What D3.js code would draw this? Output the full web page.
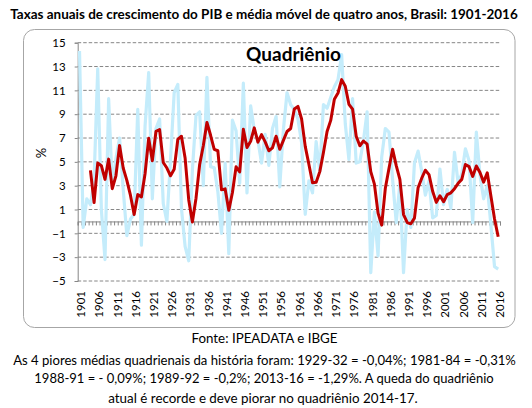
<!DOCTYPE html>
<html><head><meta charset="utf-8">
<script src="https://cdn.jsdelivr.net/npm/d3@7"></script>
<style>body{margin:0;background:#fff}svg{display:block}text{font-family:Lato,"Open Sans",sans-serif;fill:#000}</style>
</head><body><svg id="c" width="532" height="408"></svg>
<script>
const years = d3.range(1901, 2017);
const growth = [
 14.3,-0.5,1.9,1.4,3.5,12.8,1.0,-3.2,10.3,2.9,
 5.3,7.0,2.7,-1.2,0.2,0.6,9.4,-2.0,8.0,12.5,
 1.9,7.8,8.6,1.5,0.0,5.2,10.8,11.5,1.1,-2.1,
 -3.3,4.3,8.9,9.2,3.0,12.1,4.6,4.5,2.5,-1.0,
 4.9,-2.7,8.5,7.6,3.2,11.6,2.4,9.7,7.7,6.8,
 4.9,7.3,4.7,7.8,8.8,2.9,7.7,10.8,9.8,9.4,
 8.6,6.6,0.6,3.4,2.4,6.7,4.2,9.8,9.5,10.4,
 11.3,11.9,14.0,8.2,5.2,10.3,4.9,5.0,6.8,9.2,
 -4.3,0.8,-2.9,5.4,7.8,7.5,3.5,-0.1,3.2,-4.3,
 1.0,-0.5,4.9,5.9,4.2,2.2,3.4,0.3,0.5,4.4,
 1.4,2.7,1.1,5.8,3.2,4.0,6.1,5.1,-0.1,7.5,
 3.9,1.9,3.0,-0.3,-3.8,-4.0];
const movingAvg = [
 null,null,null,4.28,1.58,4.90,4.68,3.53,5.23,2.75,
 3.83,6.38,4.48,3.45,2.18,0.58,2.25,2.05,4.00,6.98,
 5.10,7.55,7.70,4.95,4.48,3.83,4.38,6.88,7.15,5.33,
 1.80,-0.04,1.95,4.78,6.35,8.30,7.23,6.05,5.93,2.65,
 2.73,0.93,2.43,4.58,4.15,7.73,6.20,6.73,7.85,6.65,
 7.28,6.68,5.93,6.18,7.15,6.05,6.80,7.55,7.80,9.43,
 9.65,8.60,6.30,4.80,3.25,3.28,4.18,5.78,7.55,8.48,
 10.25,10.78,11.90,11.35,9.83,9.43,7.15,6.35,6.75,6.48,
 4.18,3.13,0.70,-0.31,2.78,4.45,6.05,4.68,3.53,0.58,
 -0.09,-0.20,0.28,2.83,3.63,4.30,3.93,2.53,1.60,2.15,
 1.65,2.25,2.40,2.75,3.20,3.53,4.78,4.60,3.78,4.65,
 4.10,3.30,4.08,2.13,0.20,-1.29];
const yTicks = [-5,-3,-1,1,3,5,7,9,11,13,15];
const xLabelYears = [1901,1906,1911,1916,1921,1926,1931,1936,1941,1946,1951,1956,1961,1966,1971,1976,1981,1986,1991,1996,2001,2006,2011,2016];
const titleText = "Taxas anuais de crescimento do PIB e média móvel de quatro anos, Brasil: 1901-2016";
const boxLabel = "Quadriênio";
const yLabel = "%";
const footerLines = [
 "Fonte: IPEADATA e IBGE",
 "As 4 piores médias quadrienais da história foram: 1929-32 = -0,04%; 1981-84 = -0,31%",
 "1988-91 = - 0,09%; 1989-92 = -0,2%; 2013-16 = -1,29%. A queda do quadriênio",
 "atual é recorde e deve piorar no quadriênio 2014-17."];

const svg = d3.select("#c");
svg.append("rect").attr("width",532).attr("height",408).attr("fill","#fff");

// fit a text to a target width by adjusting font size (no glyph distortion)
function fitText(sel, target, maxSize) {
  const w = sel.node().getComputedTextLength();
  const fs = +sel.attr("font-size");
  sel.attr("font-size", Math.min(maxSize, fs * target / w));
}

const title = svg.append("text").attr("x",264).attr("y",19).attr("text-anchor","middle")
  .attr("font-size",13).attr("font-weight","bold").text(titleText);
fitText(title, 508, 14);

svg.append("rect").attr("x",23.5).attr("y",29.5).attr("width",491.5).attr("height",298)
  .attr("rx",11).attr("fill","#fff").attr("stroke","#a6a6a6").attr("stroke-width",1);

const L = 77.7, R = 500, T = 42.7, B = 281;
const x = d3.scaleBand().domain(years).range([L, R]).padding(0);
const cx = d => x(d) + x.bandwidth()/2;
const y = d3.scaleLinear().domain([-5, 15]).range([B, T]);

// gridlines
svg.append("g").selectAll("line").data(yTicks).join("line")
  .attr("x1", L).attr("x2", R).attr("y1", d => y(d)).attr("y2", d => y(d))
  .attr("stroke","#868686").attr("stroke-width",1).attr("stroke-dasharray","3.5,2");

// y axis
const ya = svg.append("g").attr("transform",`translate(${L},0)`)
  .call(d3.axisLeft(y).tickValues(yTicks).tickSize(3).tickPadding(9).tickFormat(d3.format("d")));
ya.select(".domain").attr("stroke","#868686");
ya.selectAll(".tick line").attr("stroke","#868686");
ya.selectAll("text").attr("font-size",11.5).attr("font-family","Lato");

// x axis at zero with boundary ticks
const xl = d3.scaleLinear().domain([1900.5, 2016.5]).range([L, R]);
const xa = svg.append("g").attr("transform",`translate(0,${y(0)})`)
  .call(d3.axisBottom(xl).tickValues(d3.range(1900.5, 2017, 1)).tickSize(4).tickFormat(""));
xa.select(".domain").attr("stroke","#868686");
xa.selectAll(".tick line").attr("stroke","#868686");

// x labels
const xlab = svg.append("g").attr("transform",`translate(0,${B})`)
  .call(d3.axisBottom(x).tickValues(xLabelYears).tickSize(0));
xlab.select(".domain").remove();
xlab.selectAll("text").attr("font-size",11.5).attr("font-family","Lato")
  .attr("transform","rotate(-90)").attr("x",-10).attr("y",0).attr("dy","0.5em")
  .style("text-anchor","end");

// lines
const line = d3.line().x((d,i) => cx(years[i])).y(d => y(d)).defined(d => d !== null);
svg.append("path").datum(growth).attr("d", line).attr("fill","none")
  .attr("stroke","#c4ecfb").attr("stroke-width",3.2).attr("stroke-linejoin","round");
svg.append("path").datum(movingAvg).attr("d", line).attr("fill","none")
  .attr("stroke","#c00000").attr("stroke-width",3).attr("stroke-linejoin","round");

// y label
svg.append("text").attr("transform","translate(46,153) rotate(-90)").attr("text-anchor","middle")
  .attr("font-size",13).text(yLabel);

// Quadriênio
const q = svg.append("text").attr("x",293.5).attr("y",61).attr("text-anchor","middle")
  .attr("font-size",18).attr("font-weight","bold").text(boxLabel);
fitText(q, 97, 19);

// footer
const fpos = [[264.5,343,146],[264.5,365,503],[264,383.3,460],[263,402.5,310]];
footerLines.forEach((t,i) => {
  const s = svg.append("text").attr("x",fpos[i][0]).attr("y",fpos[i][1]).attr("text-anchor","middle")
    .attr("font-size",14).text(t);
  fitText(s, fpos[i][2], 14.5);
});
</script></body></html>
